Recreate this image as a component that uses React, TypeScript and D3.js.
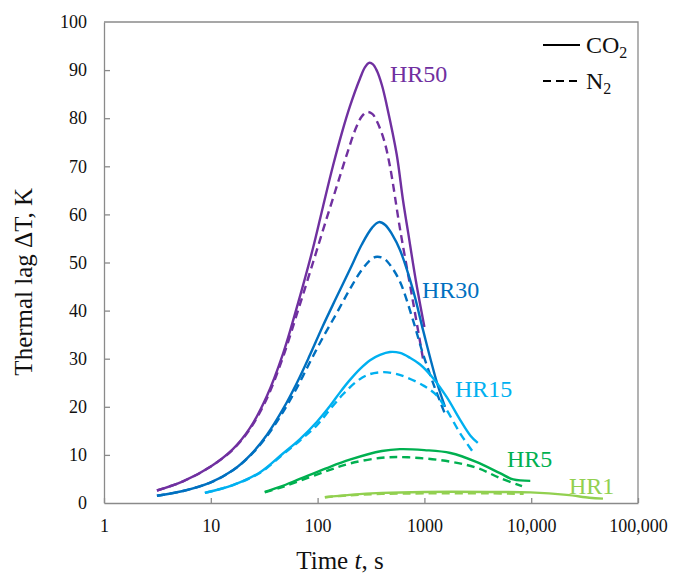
import React, { useEffect, useRef } from "react";
import { select, scaleLog, scaleLinear, axisBottom, axisLeft, line, curveCatmullRom } from "d3";

// tick values / labels
const xTicks = [1, 10, 100, 1000, 10000, 100000];
const xTickLabels = ["1", "10", "100", "1000", "10,000", "100,000"];
const yTicks = [0, 10, 20, 30, 40, 50, 60, 70, 80, 90, 100];

// [time s, thermal lag K]
const hr50Co2 = [
  [3.13, 2.6], [5.49, 4.5], [10, 7.6], [16.1, 11.2], [23.3, 15.6], [33.6, 22.3], [47.4, 31],
  [65.5, 41.5], [90.6, 53], [112, 61.5], [139, 70], [169, 77], [201, 82.5], [250, 88.3],
  [278, 90.6], [303, 91.5], [330, 91.2], [360, 89.8], [401, 86.8], [446, 82.5], [550, 72.5],
  [630, 63], [707, 56], [835, 46], [1000, 36.6]
];
const hr50N2 = [
  [3.13, 2.6], [5.49, 4.5], [10, 7.6], [16.1, 11.1], [23.3, 15.4], [33.6, 21.8], [47.4, 30.3],
  [65.5, 40], [90.6, 50], [117, 58], [152, 66], [188, 72.5], [229, 78], [260, 80.4],
  [290, 81.3], [325, 80.9], [360, 79.3], [418, 75.5], [476, 70], [591, 57], [780, 42], [970, 30]
];
const hr30Co2 = [
  [3.13, 1.5], [5.49, 2.5], [10, 4.3], [16.1, 6.8], [23.3, 9.9], [33.6, 14.2], [47.4, 19.5],
  [64.1, 25], [84.9, 30.8], [112, 36.8], [149, 42.6], [201, 48.6], [260, 53.8], [323, 57.2],
  [375, 58.4], [430, 57.8], [500, 55.8], [591, 52.6], [782, 44.3], [970, 36], [1312, 25], [1560, 20]
];
const hr30N2 = [
  [3.13, 1.5], [5.49, 2.5], [10, 4.3], [16.1, 6.8], [23.3, 9.8], [33.6, 13.9], [47.4, 18.9],
  [64.1, 24], [84.9, 29.3], [112, 34.4], [152, 39.6], [201, 44.5], [260, 48.5], [323, 50.8],
  [361, 51.2], [420, 50.8], [477, 49.5], [591, 46], [782, 38], [970, 31], [1250, 24], [1560, 18.5]
];
const hr15Co2 = [
  [8.8, 2.1], [16.1, 3.7], [29, 6.4], [47.4, 10.3], [68.4, 13.3], [98.7, 16.9], [131, 20.2],
  [162, 23], [201, 25.6], [250, 27.9], [310, 29.7], [384, 30.8], [476, 31.4], [591, 31.2],
  [732, 30.2], [912, 28.8], [1202, 26], [1620, 22], [2160, 17.3], [2700, 14], [3160, 12.5]
];
const hr15N2 = [
  [8.8, 2.1], [16.1, 3.7], [29, 6.3], [47.4, 10.1], [68.4, 13], [98.7, 16.2], [131, 19.5],
  [173, 22.6], [230, 25.2], [300, 26.7], [410, 27.2], [530, 26.9], [685, 26.1], [1000, 24.3],
  [1312, 22.3], [1620, 19.3], [2160, 14.5], [2850, 10.6]
];
const hr5Co2 = [
  [32, 2.3], [45, 3.4], [68, 5], [120, 7.2], [200, 9], [400, 10.8], [590, 11.2],
  [1000, 11], [1750, 10.4], [3100, 8.5], [5100, 6.2], [6800, 4.9], [9800, 4.6]
];
const hr5N2 = [
  [32, 2.2], [45, 3.2], [68, 4.6], [120, 6.6], [200, 8.2], [400, 9.4], [700, 9.5],
  [1750, 8.6], [3100, 7.3], [5100, 5.2], [8200, 3.5]
];
const hr1Co2 = [
  [117, 1.2], [200, 1.7], [400, 2.1], [1000, 2.3], [4000, 2.3], [9800, 2.2],
  [21500, 1.7], [35000, 1.1], [47000, 0.9]
];
const hr1N2 = [
  [117, 1.2], [200, 1.6], [400, 1.9], [1000, 2.0], [4000, 2.0], [8500, 1.9]
];

const series = [
  { rate: "HR50", gas: "CO2", values: hr50Co2 },
  { rate: "HR50", gas: "N2", values: hr50N2 },
  { rate: "HR30", gas: "CO2", values: hr30Co2 },
  { rate: "HR30", gas: "N2", values: hr30N2 },
  { rate: "HR15", gas: "CO2", values: hr15Co2 },
  { rate: "HR15", gas: "N2", values: hr15N2 },
  { rate: "HR5", gas: "CO2", values: hr5Co2 },
  { rate: "HR5", gas: "N2", values: hr5N2 },
  { rate: "HR1", gas: "CO2", values: hr1Co2 },
  { rate: "HR1", gas: "N2", values: hr1N2 },
];

// curve labels anchored in data units [time, lag]
const curveLabels = [
  ["HR50", 476, 87.5],
  ["HR30", 950, 42.6],
  ["HR15", 1935, 22],
  ["HR5", 5930, 7.5],
  ["HR1", 22600, 1.9],
];

const colors = {
  HR50: "#7030A0",
  HR30: "#0070C0",
  HR15: "#00B0F0",
  HR5: "#00B050",
  HR1: "#92D050",
};

const FONT = "'Liberation Serif', 'Times New Roman', serif";

const App = () => {
  const svgRef = useRef();
  const width = 673;
  const height = 576;
  const margin = { left: 104, right: 35, top: 22, bottom: 73 };

  useEffect(() => {
    const svg = select(svgRef.current);
    svg.selectAll("*").remove();

    const xScale = scaleLog().domain([1, 100000]).range([margin.left, width - margin.right]);
    const yScale = scaleLinear().domain([0, 100]).range([height - margin.bottom, margin.top]);

    const frameColor = "#8a8a8a";

    // frame (top + right)
    svg.append("path")
      .attr("d", `M${xScale(1)},${yScale(100)}H${xScale(100000)}V${yScale(0)}`)
      .attr("fill", "none")
      .attr("stroke", frameColor)
      .attr("stroke-width", 1.3);

    // axes
    const xAxis = axisBottom(xScale)
      .tickValues(xTicks)
      .tickFormat((d, i) => xTickLabels[i])
      .tickSizeInner(-5)
      .tickSizeOuter(0)
      .tickPadding(16);
    const gx = svg.append("g")
      .attr("transform", `translate(0, ${yScale(0)})`)
      .call(xAxis);

    const yAxis = axisLeft(yScale)
      .tickValues(yTicks)
      .tickSizeInner(-6)
      .tickSizeOuter(0)
      .tickPadding(17);
    const gy = svg.append("g")
      .attr("transform", `translate(${xScale(1)}, 0)`)
      .call(yAxis);

    [gx, gy].forEach(g => {
      g.attr("font-family", FONT).attr("font-size", 18);
      g.select(".domain").attr("stroke", frameColor).attr("stroke-width", 1.3);
      g.selectAll(".tick line").attr("stroke", frameColor).attr("stroke-width", 1.3);
      g.selectAll(".tick text")
        .attr("fill", "#111")
        .style("font-family", FONT)
        .style("font-size", "18px");
    });
    gy.selectAll(".tick")
      .filter(d => d === 0 || d === 100)
      .select("line").remove();

    // curves
    const lineGenerator = line()
      .x(d => xScale(d[0]))
      .y(d => yScale(d[1]))
      .curve(curveCatmullRom.alpha(0.5));

    svg.selectAll(".curve")
      .data(series)
      .join("path")
      .attr("class", "curve")
      .attr("fill", "none")
      .attr("stroke", s => colors[s.rate])
      .attr("stroke-width", 2.4)
      .attr("stroke-dasharray", s => (s.gas === "N2" ? "8,5" : null))
      .attr("d", s => lineGenerator(s.values));

    // curve labels
    svg.selectAll(".hr-label")
      .data(curveLabels)
      .join("text")
      .attr("class", "hr-label")
      .attr("x", d => xScale(d[1]))
      .attr("y", d => yScale(d[2]))
      .attr("fill", d => colors[d[0]])
      .style("font-family", FONT)
      .style("font-size", "24px")
      .text(d => d[0]);

    // axis titles
    const xt = svg.append("text")
      .attr("x", 340)
      .attr("y", 569)
      .attr("text-anchor", "middle")
      .attr("fill", "#111")
      .style("font-family", FONT)
      .style("font-size", "25px");
    xt.append("tspan").text("Time ");
    xt.append("tspan").style("font-style", "italic").text("t");
    xt.append("tspan").text(", s");

    svg.append("text")
      .attr("transform", `translate(32, ${yScale(46)}) rotate(-90)`)
      .attr("text-anchor", "middle")
      .attr("fill", "#111")
      .style("font-family", FONT)
      .style("font-size", "25px")
      .text("Thermal lag \u0394T, K");

    // legend
    const legend = svg.append("g");
    const entries = [
      { gas: "CO", sub: "2", dash: null, y: 45 },
      { gas: "N", sub: "2", dash: "8,5", y: 81 },
    ];
    entries.forEach(e => {
      legend.append("line")
        .attr("x1", 543).attr("x2", 580)
        .attr("y1", e.y).attr("y2", e.y)
        .attr("stroke", "#000")
        .attr("stroke-width", 2)
        .attr("stroke-dasharray", e.dash);
      const t = legend.append("text")
        .attr("x", 586)
        .attr("y", e.y + 8)
        .attr("fill", "#111")
        .style("font-family", FONT)
        .style("font-size", "24px");
      t.append("tspan").text(e.gas);
      t.append("tspan").attr("dy", 5).style("font-size", "16px").text(e.sub);
    });
  }, []);

  return (
    <div style={{ position: "absolute", left: 0, top: 0 }}>
      <svg ref={svgRef} width={width} height={height} style={{ background: "#fff", display: "block" }} />
    </div>
  );
};

export default App;
